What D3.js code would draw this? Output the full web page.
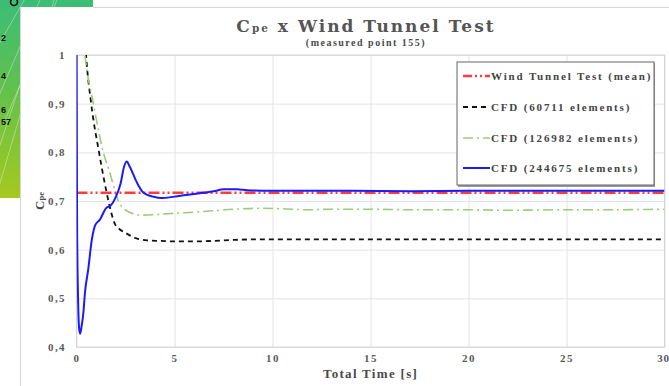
<!DOCTYPE html>
<html>
<head>
<meta charset="utf-8">
<script src="https://cdn.jsdelivr.net/npm/d3@7"></script>
<style>
  body { margin: 0; background: #fff; }
  svg { display: block; }
  text { font-family: "Liberation Serif", "DejaVu Serif", serif; font-weight: bold; }
</style>
</head>
<body>
<div id="chart"></div>
<script>
// ---- data ----
const xTickValues = [0, 5, 10, 15, 20, 25, 30];
const yTickValues = [0.4, 0.5, 0.6, 0.7, 0.8, 0.9, 1];
const yTickLabels = ['0,4', '0,5', '0,6', '0,7', '0,8', '0,9', '1'];

const legendNames = ['Wind Tunnel Test (mean)', 'CFD (60711 elements)', 'CFD (126982 elements)', 'CFD (244675 elements)'];

const tunnelMean = 0.717;

const time60711 = [0.4, 0.49, 0.75, 1.15, 1.4, 1.63, 1.97, 2.2, 2.48, 3.0, 3.6, 4.3, 5, 6, 7, 8, 9, 10, 12, 15, 18, 20, 22, 25, 28, 30];
const cpe60711 = [1.06, 1.0, 0.9, 0.8, 0.745, 0.70, 0.652, 0.642, 0.635, 0.624, 0.619, 0.618, 0.617, 0.617, 0.618, 0.620, 0.621, 0.621, 0.621, 0.621, 0.621, 0.621, 0.621, 0.621, 0.621, 0.621];

const time126982 = [0.33, 0.43, 0.86, 1.37, 1.71, 1.97, 2.14, 2.4, 2.82, 3.3, 4.0, 5.1, 6, 7, 8, 9.4, 10.5, 11.8, 13, 15, 17, 20, 22, 25, 27, 30];
const cpe126982 = [1.04, 1.0, 0.9, 0.8, 0.757, 0.72, 0.70, 0.685, 0.675, 0.671, 0.672, 0.675, 0.677, 0.68, 0.683, 0.685, 0.684, 0.682, 0.683, 0.683, 0.682, 0.682, 0.681, 0.682, 0.682, 0.683];

const time244675 = [0, 0.03, 0.08, 0.13, 0.18, 0.25, 0.35, 0.43, 0.6, 0.78, 0.95, 1.2, 1.5, 1.75, 1.97, 2.25, 2.43, 2.57, 2.7, 2.82, 3.0, 3.16, 3.35, 3.59, 3.9, 4.3, 5, 5.7, 6.3, 7.0, 7.5, 8.2, 8.7, 10, 11.9, 14, 17, 20, 23, 26, 30];
const cpe244675 = [1.1, 0.65, 0.5, 0.44, 0.427, 0.44, 0.47, 0.511, 0.56, 0.62, 0.65, 0.662, 0.685, 0.691, 0.705, 0.736, 0.771, 0.781, 0.772, 0.762, 0.745, 0.732, 0.72, 0.713, 0.709, 0.706, 0.709, 0.713, 0.716, 0.72, 0.724, 0.724, 0.722, 0.721, 0.721, 0.721, 0.72, 0.721, 0.721, 0.721, 0.721];

// ---- layout ----
const W = 669, H = 386;
const plot = { left: 76.5, right: 664.5, top: 55, bottom: 347 };

const svg = d3.select('#chart').append('svg')
  .attr('width', W)
  .attr('height', H);

const defs = svg.append('defs');

// slide background peeking in at the left
const grad = defs.append('linearGradient')
  .attr('id', 'slideGreen')
  .attr('x1', 0).attr('y1', 0).attr('x2', 0).attr('y2', 1);
grad.append('stop').attr('offset', '0%').attr('stop-color', '#3bbd76');
grad.append('stop').attr('offset', '45%').attr('stop-color', '#62c14e');
grad.append('stop').attr('offset', '100%').attr('stop-color', '#a6c81e');

defs.append('clipPath').attr('id', 'slideClip')
  .append('path')
  .attr('d', 'M0,0 H93 V7 H20 V198 H0 Z');

defs.append('clipPath').attr('id', 'plotClip')
  .append('rect')
  .attr('x', plot.left)
  .attr('y', plot.top)
  .attr('width', plot.right - plot.left)
  .attr('height', plot.bottom - plot.top);

const slide = svg.append('g').attr('clip-path', 'url(#slideClip)');
slide.append('rect')
  .attr('width', 93).attr('height', 198)
  .attr('fill', 'url(#slideGreen)');
[[-10, 60, 30, -10], [-20, 140, 40, 0], [-5, 200, 60, -20], [5, 120, 70, -30], [-15, 190, 25, 70]].forEach(s => {
  slide.append('line')
    .attr('x1', s[0]).attr('y1', s[1]).attr('x2', s[2]).attr('y2', s[3])
    .attr('stroke', '#fff').attr('stroke-opacity', 0.45).attr('stroke-width', 0.8);
});
slide.append('circle').attr('cx', 14).attr('cy', 2).attr('r', 3.5)
  .attr('fill', 'none').attr('stroke', '#111').attr('stroke-width', 1.6);
[['2', 41], ['4', 79], ['6', 113], ['57', 125]].forEach(d => {
  slide.append('text')
    .attr('x', 1).attr('y', d[1])
    .style('font-family', 'Liberation Sans, sans-serif')
    .style('font-size', '9px')
    .attr('fill', '#111')
    .text(d[0]);
});

// white panel edges
svg.append('line').attr('x1', 20.5).attr('y1', 7).attr('x2', 20.5).attr('y2', H)
  .attr('stroke', '#d6d6d6');
svg.append('line').attr('x1', 93).attr('y1', 7.5).attr('x2', W).attr('y2', 7.5)
  .attr('stroke', '#d6d6d6');

// ---- scales ----
const x = d3.scaleLinear().domain([0, 30]).range([plot.left, plot.right]);
const y = d3.scaleLinear().domain([0.4, 1]).range([plot.bottom, plot.top]);

// ---- axes & grid ----
const gx = svg.append('g')
  .attr('transform', 'translate(0,' + plot.bottom + ')')
  .call(d3.axisBottom(x)
    .tickValues(xTickValues)
    .tickSize(-(plot.bottom - plot.top))
    .tickPadding(7)
    .tickFormat(d => d));

const gy = svg.append('g')
  .attr('transform', 'translate(' + plot.left + ',0)')
  .call(d3.axisLeft(y)
    .tickValues(yTickValues)
    .tickSize(-(plot.right - plot.left))
    .tickPadding(10.5)
    .tickFormat((d, i) => yTickLabels[i]));

[gx, gy].forEach(g => {
  g.select('.domain').remove();
  g.selectAll('.tick line').attr('stroke', '#e4e4e4');
  g.selectAll('.tick text')
    .attr('fill', '#5a5a5a')
    .style('font-size', '11px')
    .style('letter-spacing', '1.4px')
    .style('font-family', '"Liberation Serif", serif');
});
// last x label sits against the right edge
gx.selectAll('.tick text').filter(d => d === 30)
  .attr('text-anchor', 'end')
  .attr('dx', 4.5)
  .style('letter-spacing', '0.6px');

svg.append('rect')
  .attr('x', plot.left).attr('y', plot.top)
  .attr('width', plot.right - plot.left)
  .attr('height', plot.bottom - plot.top)
  .attr('fill', 'none')
  .attr('stroke', '#d4d4d4');

// ---- series ----
const line = d3.line()
  .x(d => x(d[0]))
  .y(d => y(d[1]))
  .curve(d3.curveMonotoneX);

const lines = svg.append('g').attr('clip-path', 'url(#plotClip)');

const styles = [
  { color: '#ff3b3b', width: 2.4, dash: '11,3,2,3,2,3' },
  { color: '#111111', width: 1.8, dash: '5,4' },
  { color: '#9acd78', width: 1.6, dash: '10,4,2,4' },
  { color: '#1a1aff', width: 2.0, dash: null }
];

const tunnelPts = [[0, tunnelMean], [30, tunnelMean]];
const pts60711 = time60711.map((t, i) => [t, cpe60711[i]]);
const pts126982 = time126982.map((t, i) => [t, cpe126982[i]]);
const pts244675 = time244675.map((t, i) => [t, cpe244675[i]]);

const allSeries = [pts60711, pts126982, tunnelPts, pts244675];
const styleIdx = [1, 2, 0, 3];

allSeries.forEach((pts, k) => {
  const s = styles[styleIdx[k]];
  lines.append('path')
    .datum(pts)
    .attr('fill', 'none')
    .attr('stroke', s.color)
    .attr('stroke-width', s.width)
    .attr('stroke-dasharray', s.dash)
    .attr('stroke-linejoin', 'round')
    .attr('d', line);
});

// ---- legend ----
const lg = svg.append('g');
lg.append('rect')
  .attr('x', 458).attr('y', 63)
  .attr('width', 197).attr('height', 124)
  .attr('fill', '#9a9a9a');
lg.append('rect')
  .attr('x', 457).attr('y', 62)
  .attr('width', 197).attr('height', 123)
  .attr('fill', '#fff')
  .attr('stroke', '#666')
  .attr('stroke-width', 1);

const legendY = [76, 107, 138, 168];
legendNames.forEach((name, i) => {
  const s = styles[i];
  lg.append('line')
    .attr('x1', 463).attr('x2', 490)
    .attr('y1', legendY[i]).attr('y2', legendY[i])
    .attr('stroke', s.color)
    .attr('stroke-width', s.width)
    .attr('stroke-dasharray', i === 0 ? '9,3,2,3,2,3' : s.dash);
  lg.append('text')
    .attr('x', 491).attr('y', legendY[i])
    .attr('dy', '0.33em')
    .attr('fill', '#444')
    .style('font-size', '11px')
    .style('letter-spacing', '1.85px')
    .text(name);
});

// ---- titles ----
const title = svg.append('text')
  .attr('x', 366).attr('y', 32)
  .attr('text-anchor', 'middle')
  .attr('fill', '#555')
  .style('font-family', '"DejaVu Serif", serif')
  .style('font-size', '17px')
  .style('letter-spacing', '2px');
title.append('tspan').text('C');
title.append('tspan').style('font-size', '10.5px').text('pe');
title.append('tspan').text(' x Wind Tunnel Test');

svg.append('text')
  .attr('x', 366).attr('y', 46)
  .attr('text-anchor', 'middle')
  .attr('fill', '#4a4a4a')
  .style('font-size', '10px')
  .style('letter-spacing', '1.5px')
  .text('(measured point 155)');

svg.append('text')
  .attr('x', (plot.left + plot.right) / 2).attr('y', 378)
  .attr('text-anchor', 'middle')
  .attr('fill', '#4a4a4a')
  .style('font-size', '13px')
  .style('letter-spacing', '1.3px')
  .text('Total Time [s]');

const ylab = svg.append('text')
  .attr('transform', 'translate(44,201) rotate(-90)')
  .attr('text-anchor', 'middle')
  .attr('fill', '#4a4a4a')
  .style('font-size', '13px');
ylab.append('tspan').text('C');
ylab.append('tspan').style('font-size', '8.5px').text('pe');
</script>
</body>
</html>
